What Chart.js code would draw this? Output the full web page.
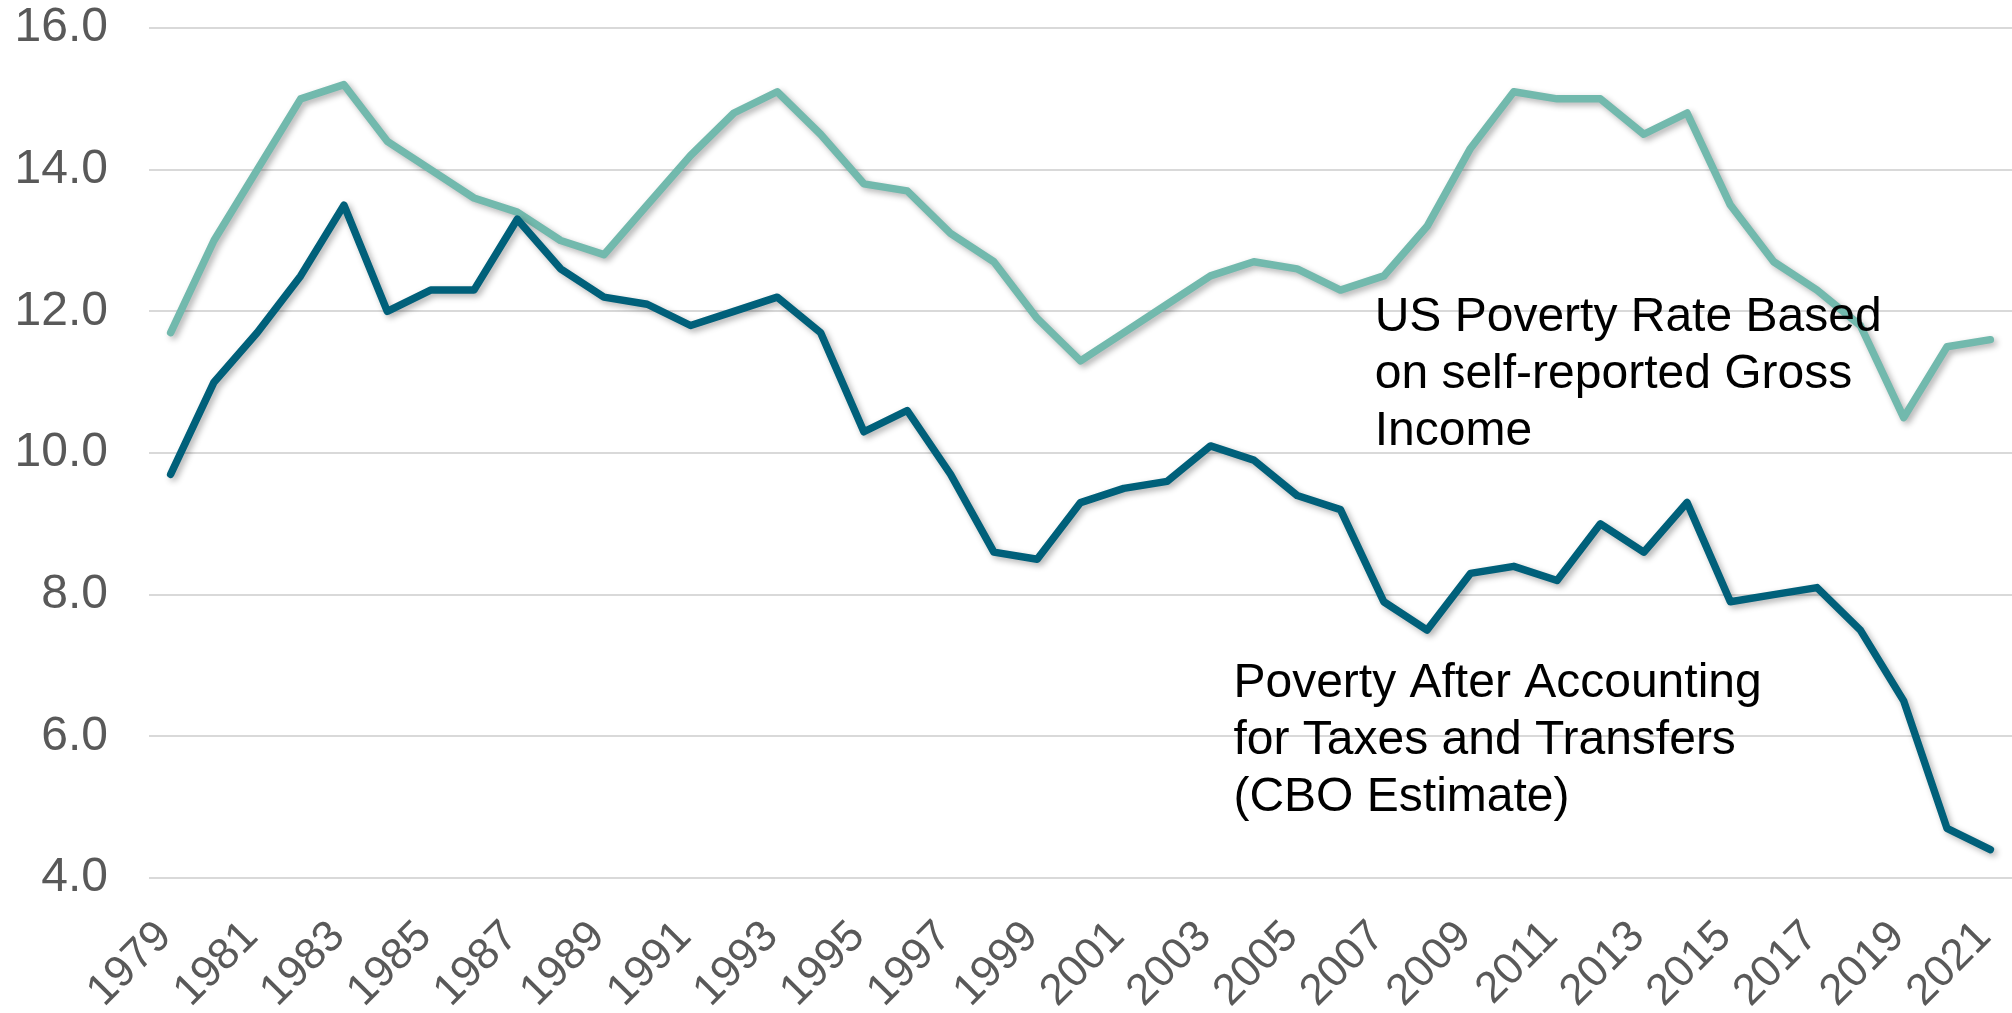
<!DOCTYPE html>
<html>
<head>
<meta charset="utf-8">
<script src="https://cdn.jsdelivr.net/npm/chart.js@4.4.1/dist/chart.umd.min.js"></script>
<style>
  html, body { margin: 0; padding: 0; background: #fff; }
  #wrap { width: 2012px; height: 1013px; position: relative; }
</style>
</head>
<body>
<div id="wrap"><canvas id="povertyChart"></canvas></div>
<script>
// años y series
const years = ['1979', '1980', '1981', '1982', '1983', '1984', '1985', '1986', '1987', '1988',
  '1989', '1990', '1991', '1992', '1993', '1994', '1995', '1996', '1997', '1998',
  '1999', '2000', '2001', '2002', '2003', '2004', '2005', '2006', '2007', '2008',
  '2009', '2010', '2011', '2012', '2013', '2014', '2015', '2016', '2017', '2018',
  '2019', '2020', '2021'];

const grossIncomeRate = [11.7, 13.0, 14.0, 15.0, 15.2, 14.4, 14.0, 13.6, 13.4, 13.0,
  12.8, 13.5, 14.2, 14.8, 15.1, 14.5, 13.8, 13.7, 13.1, 12.7,
  11.9, 11.3, 11.7, 12.1, 12.5, 12.7, 12.6, 12.3, 12.5, 13.2,
  14.3, 15.1, 15.0, 15.0, 14.5, 14.8, 13.5, 12.7, 12.3, 11.8,
  10.5, 11.5, 11.6];

const afterTaxTransfers = [9.7, 11.0, 11.7, 12.5, 13.5, 12.0, 12.3, 12.3, 13.3, 12.6,
  12.2, 12.1, 11.8, 12.0, 12.2, 11.7, 10.3, 10.6, 9.7, 8.6,
  8.5, 9.3, 9.5, 9.6, 10.1, 9.9, 9.4, 9.2, 7.9, 7.5,
  8.3, 8.4, 8.2, 9.0, 8.6, 9.3, 7.9, 8.0, 8.1, 7.5,
  6.5, 4.7, 4.4];

const yTicks = [4, 6, 8, 10, 12, 14, 16];

const grossLabel = ['US Poverty Rate Based', 'on self-reported Gross', 'Income'];
const afterLabel = ['Poverty After Accounting', 'for Taxes and Transfers', '(CBO Estimate)'];

const FONT = '"Liberation Sans", Arial, sans-serif';

// sombra suave bajo cada línea
const lineShadow = {
  id: 'lineShadow',
  beforeDatasetDraw(chart) {
    const ctx = chart.ctx;
    ctx.save();
    ctx.shadowColor = 'rgba(0,0,0,0.3)';
    ctx.shadowBlur = 6;
    ctx.shadowOffsetX = 3;
    ctx.shadowOffsetY = 3;
  },
  afterDatasetDraw(chart) {
    chart.ctx.restore();
  }
};

// textos dentro del área del gráfico, anclados a las escalas
const seriesText = {
  id: 'seriesText',
  afterDatasetsDraw(chart, args, opts) {
    const { ctx, scales } = chart;
    ctx.save();
    ctx.font = opts.font;
    ctx.fillStyle = opts.color;
    ctx.textAlign = 'left';
    ctx.textBaseline = 'alphabetic';
    opts.items.forEach(item => {
      const x = scales.x.getPixelForValue(item.index);
      let y = scales.y.getPixelForValue(item.value);
      item.lines.forEach(line => {
        ctx.fillText(line, x, y);
        y += opts.lineHeight;
      });
    });
    ctx.restore();
  }
};

const ctx = document.getElementById('povertyChart').getContext('2d');
new Chart(ctx, {
  type: 'line',
  data: {
    labels: years,
    datasets: [
      {
        label: 'Poverty After Accounting for Taxes and Transfers (CBO Estimate)',
        data: afterTaxTransfers,
        borderColor: '#00607A',
        borderWidth: 7.5,
        pointRadius: 0,
        tension: 0,
        borderJoinStyle: 'round',
        borderCapStyle: 'round'
      },
      {
        label: 'US Poverty Rate Based on self-reported Gross Income',
        data: grossIncomeRate,
        borderColor: '#72B9AD',
        borderWidth: 7.5,
        pointRadius: 0,
        tension: 0,
        borderJoinStyle: 'round',
        borderCapStyle: 'round'
      }
    ]
  },
  options: {
    responsive: true,
    maintainAspectRatio: false,
    animation: false,
    devicePixelRatio: 1,
    layout: { padding: 0 },
    plugins: {
      legend: { display: false },
      tooltip: { enabled: false },
      seriesText: {
        font: '48px ' + FONT,
        color: '#000000',
        lineHeight: 57,
        items: [
          { index: 27.79, value: 11.72, lines: grossLabel },
          { index: 24.53, value: 6.555, lines: afterLabel }
        ]
      }
    },
    scales: {
      x: {
        type: 'category',
        offset: true,
        grid: { display: false, drawTicks: false },
        border: { display: false },
        afterFit(scale) {
          scale.height = 135;
          scale.paddingLeft = 0;
          scale.paddingRight = 0;
        },
        ticks: {
          autoSkip: false,
          minRotation: 45,
          maxRotation: 45,
          padding: 33,
          labelOffset: -6,
          color: '#595959',
          font: { family: FONT, size: 44 },
          callback(value, index) {
            return index % 2 === 0 ? this.getLabelForValue(value) : null;
          }
        }
      },
      y: {
        min: 4,
        max: 16,
        afterFit(scale) {
          scale.width = 149;
          scale.paddingTop = 28;
          scale.paddingBottom = 0;
        },
        afterBuildTicks(scale) {
          scale.ticks = yTicks.map(v => ({ value: v }));
        },
        grid: { color: '#D9D9D9', lineWidth: 2, drawTicks: false },
        border: { display: false },
        ticks: {
          padding: 41,
          color: '#595959',
          font: { family: FONT, size: 48 },
          callback: v => v.toFixed(1)
        }
      }
    }
  },
  plugins: [lineShadow, seriesText]
});
</script>
</body>
</html>
